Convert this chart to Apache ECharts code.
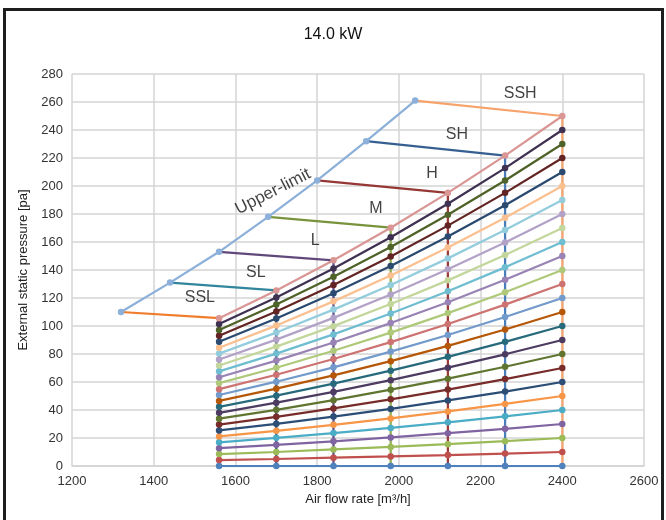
<!DOCTYPE html>
<html>
<head>
<meta charset="utf-8">
<script src="https://cdn.jsdelivr.net/npm/echarts@6/dist/echarts.min.js"></script>
<style>
  html, body { margin: 0; padding: 0; background: #fff; }
  #chart { width: 666px; height: 520px; }
</style>
</head>
<body>
<div id="chart"></div>
<script>
// air flow points of the fan curves [m3/h]
const airFlow = [1560, 1700, 1840, 1980, 2120, 2260, 2400];

// static pressure of each fan curve (bottom 0 pa -> top 250 pa at 2400)
const curveValues = [
  [0, 0, 0, 0, 0, 0, 0],
  [4.2, 5.0, 5.9, 6.8, 7.8, 8.9, 10],
  [8.5, 10.0, 11.8, 13.6, 15.6, 17.7, 20],
  [12.7, 15.1, 17.6, 20.4, 23.4, 26.6, 30],
  [16.9, 20.1, 23.5, 27.2, 31.2, 35.5, 40],
  [21.1, 25.1, 29.4, 34.0, 39.0, 44.3, 50],
  [25.4, 30.1, 35.3, 40.8, 46.8, 53.2, 60],
  [29.6, 35.1, 41.1, 47.6, 54.6, 62.1, 70],
  [33.8, 40.1, 47.0, 54.5, 62.4, 70.9, 80],
  [38.0, 45.2, 52.9, 61.3, 70.2, 79.8, 90],
  [42.3, 50.2, 58.8, 68.1, 78.0, 88.7, 100],
  [46.5, 55.2, 64.7, 74.9, 85.8, 97.5, 110],
  [50.7, 60.2, 70.5, 81.7, 93.6, 106.4, 120],
  [54.9, 65.2, 76.4, 88.5, 101.4, 115.3, 130],
  [59.2, 70.2, 82.3, 95.3, 109.2, 124.1, 140],
  [63.4, 75.3, 88.2, 102.1, 117.0, 133.0, 150],
  [67.6, 80.3, 94.0, 108.9, 124.8, 141.9, 160],
  [71.8, 85.3, 99.9, 115.7, 132.6, 150.7, 170],
  [76.1, 90.3, 105.8, 122.5, 140.5, 159.6, 180],
  [80.3, 95.3, 111.7, 129.3, 148.3, 168.5, 190],
  [84.5, 100.3, 117.6, 136.1, 156.1, 177.3, 200],
  [88.7, 105.4, 123.4, 142.9, 163.9, 186.2, 210],
  [93.0, 110.4, 129.3, 149.7, 171.7, 195.1, 220],
  [97.2, 115.4, 135.2, 156.5, 179.5, 203.9, 230],
  [101.4, 120.4, 141.1, 163.4, 187.3, 212.8, 240],
  [105.6, 125.4, 146.9, 170.2, 195.1, 221.7, 250]
];

const curveColors = [
  "#4f81bd", "#c0504d", "#9bbb59", "#8064a2", "#4bacc6", "#f79646",
  "#2c4d75", "#772c2a", "#5f7530", "#4d3b62", "#276a7c", "#b65708",
  "#729aca", "#cd7371", "#afc97a", "#9983b5", "#6fbdd1", "#c3d69b",
  "#b3a2c7", "#93cddd", "#fac090", "#2a4a70", "#632523", "#4f6228",
  "#3f3151", "#d99694"
];

// upper-limit curve
const limitFlow = [1320, 1440, 1560, 1680, 1800, 1920, 2040];
const limitPressure = [110, 131, 153, 178, 204, 232, 261];

// fan taps, each joins an upper-limit point to the top curve
const tapNames = ["SSL", "SL", "L", "M", "H", "SH", "SSH"];
const tapColors = ["#f07b2b", "#31859c", "#60497a", "#77933c", "#953735", "#376092", "#f6a36b"];
const columnColors = ["#4d3b62", "#2c4d75", "#5f4b8b", "#8fad4f", "#9b3b38", "#4a7ebb", "#f6a56f"];

// label anchors [x, y] in data units
const tapLabelPos = [
  [1513, 120], [1650, 138], [1795, 161], [1944, 184],
  [2081, 209], [2142, 237], [2297, 266]
];
const limitLabelPos = [1692, 196];

const chart = echarts.init(document.getElementById("chart"));
const font = "Liberation Sans, Arial, sans-serif";
const topCurve = curveValues[curveValues.length - 1];

const series = [];

// vertical lines at each air flow
airFlow.forEach((x, j) => {
  series.push({
    type: "line",
    z: 1,
    silent: true,
    showSymbol: false,
    lineStyle: { color: columnColors[j], width: 2.25 },
    data: [[x, 0], [x, topCurve[j]]],
  });
});

curveValues.forEach((vals, i) => {
  series.push({
    type: "line",
    z: 2,
    silent: true,
    symbol: "circle",
    symbolSize: 6.5,
    itemStyle: { color: curveColors[i] },
    lineStyle: { color: curveColors[i], width: 2.25 },
    data: airFlow.map((x, j) => [x, vals[j]]),
  });
});

tapNames.forEach((name, j) => {
  series.push({
    type: "line",
    z: 2,
    silent: true,
    showSymbol: false,
    lineStyle: { color: tapColors[j], width: 2.25 },
    data: [[limitFlow[j], limitPressure[j]], [airFlow[j], topCurve[j]]],
  });
});

series.push({
  type: "line",
  z: 3,
  silent: true,
  symbol: "circle",
  symbolSize: 6.5,
  itemStyle: { color: "#8cb0d9" },
  lineStyle: { color: "#8cb0d9", width: 2.25 },
  data: limitFlow.map((x, j) => [x, limitPressure[j]]),
});

// text labels
series.push({
  type: "scatter",
  z: 5,
  silent: true,
  symbolSize: 0,
  label: {
    show: true,
    position: "inside",
    formatter: "{b}",
    color: "#111",
    fontSize: 16,
    fontFamily: font,
  },
  data: tapNames.map((name, j) => ({ name: name, value: tapLabelPos[j] })).concat([
    { name: "Upper-limit", value: limitLabelPos, label: { rotate: 27, fontSize: 17 } },
  ]),
});

chart.setOption({
  animation: false,
  backgroundColor: "#fff",
  title: {
    text: "14.0 kW",
    left: "center",
    top: 22,
    textStyle: { fontFamily: font, fontSize: 16, fontWeight: "normal", color: "#111" },
  },
  grid: { left: 72, right: 22, top: 74, bottom: 54 },
  xAxis: {
    type: "value",
    min: 1200,
    max: 2600,
    interval: 200,
    name: "Air flow rate [m³/h]",
    nameLocation: "middle",
    nameGap: 24,
    nameTextStyle: { fontFamily: font, fontSize: 13, color: "#222" },
    axisLine: { show: true, lineStyle: { color: "#d4d4d4", width: 1.5 } },
    axisTick: { show: false },
    axisLabel: { fontFamily: font, fontSize: 13, color: "#333", margin: 9, formatter: (v) => String(v) },
    splitLine: { show: true, lineStyle: { color: "#d4d4d4", width: 1.5 } },
  },
  yAxis: {
    type: "value",
    min: 0,
    max: 280,
    interval: 20,
    name: "External static pressure [pa]",
    nameLocation: "middle",
    nameGap: 40,
    nameTextStyle: { fontFamily: font, fontSize: 13, color: "#222" },
    axisLine: { show: false },
    axisTick: { show: false },
    axisLabel: { fontFamily: font, fontSize: 13, color: "#333", margin: 9 },
    splitLine: { show: true, lineStyle: { color: "#d4d4d4", width: 1.5 } },
  },
  graphic: [
    {
      type: "rect",
      silent: true,
      z: 100,
      shape: { x: 4.5, y: 9.5, width: 658, height: 530 },
      style: { fill: "none", stroke: "#1e1e1e", lineWidth: 3 },
    },
  ],
  series: series,
});

window.addEventListener("resize", () => {
  chart.resize();
});
</script>
</body>
</html>
